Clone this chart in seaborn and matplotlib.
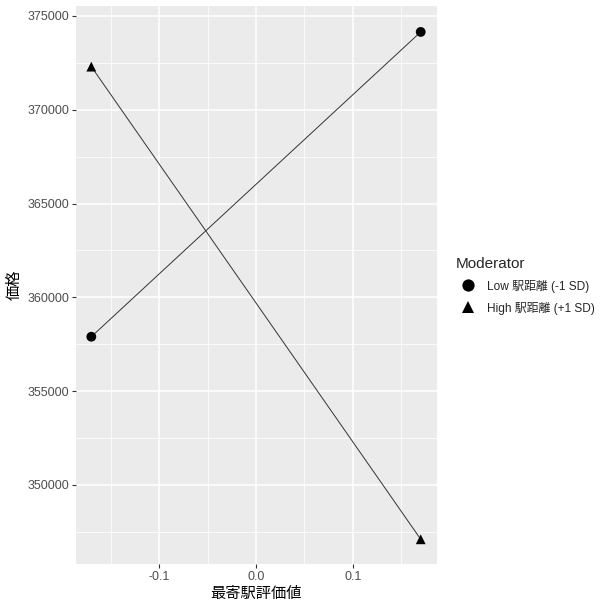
import numpy as np
import pandas as pd
import matplotlib
matplotlib.use("Agg")
import matplotlib.pyplot as plt
from matplotlib.ticker import MultipleLocator
import seaborn as sns

# values
x_levels = [-0.17, 0.17]
low_vals = [357900, 374150]
high_vals = [372300, 347100]
groups = ["Low 駅距離 (-1 SD)", "High 駅距離 (+1 SD)"]

df = pd.DataFrame({
    "x": x_levels * 2,
    "price": low_vals + high_vals,
    "Moderator": [groups[0]] * 2 + [groups[1]] * 2,
})

sns.set_theme(style="darkgrid", rc={
    "axes.facecolor": "#EBEBEB",
    "grid.color": "white",
    "axes.edgecolor": "#EBEBEB",
    "xtick.bottom": True,
    "ytick.left": True,
    "xtick.color": "#333333",
    "ytick.color": "#333333",
    "xtick.labelcolor": "#4D4D4D",
    "ytick.labelcolor": "#4D4D4D",
})
plt.rcParams["font.family"] = ["Liberation Sans", "Noto Sans CJK JP"]

fig, ax = plt.subplots(figsize=(6.0, 6.05), dpi=100)
fig.subplots_adjust(left=0.127, right=0.728, top=0.990, bottom=0.068)

sns.lineplot(data=df, x="x", y="price", units="Moderator", estimator=None,
             color="#333333", linewidth=0.7, ax=ax, legend=False)
sns.scatterplot(data=df, x="x", y="price", style="Moderator",
                markers=["o", "^"], color="black", s=50, linewidth=0,
                ax=ax, zorder=3)

ax.set_xlim(-0.1856, 0.1866)
ax.set_ylim(345790, 375530)
ax.xaxis.set_major_locator(MultipleLocator(0.1))
ax.xaxis.set_minor_locator(MultipleLocator(0.05))
ax.yaxis.set_major_locator(MultipleLocator(5000))
ax.yaxis.set_minor_locator(MultipleLocator(2500))
ax.xaxis.set_major_formatter(matplotlib.ticker.FormatStrFormatter("%.1f"))
ax.grid(which="major", color="white", linewidth=1.1)
ax.grid(which="minor", color="white", linewidth=0.55)
ax.tick_params(which="major", length=3, width=0.8, labelsize=9, pad=2)
ax.tick_params(which="minor", length=0)
for s in ax.spines.values():
    s.set_visible(False)

ax.set_xlabel("最寄駅評価値", fontsize=11, color="black", labelpad=3)
ax.set_ylabel("価格", fontsize=11, color="black", labelpad=4)

leg = ax.legend(title="Moderator", loc="center left",
                bbox_to_anchor=(0.752, 0.528), bbox_transform=fig.transFigure,
                frameon=False, fontsize=8.6, title_fontsize=11,
                markerscale=1.25, handletextpad=0.6, labelspacing=0.75,
                borderaxespad=0)
leg._legend_box.align = "left"

fig.savefig("out.png", dpi=100)
